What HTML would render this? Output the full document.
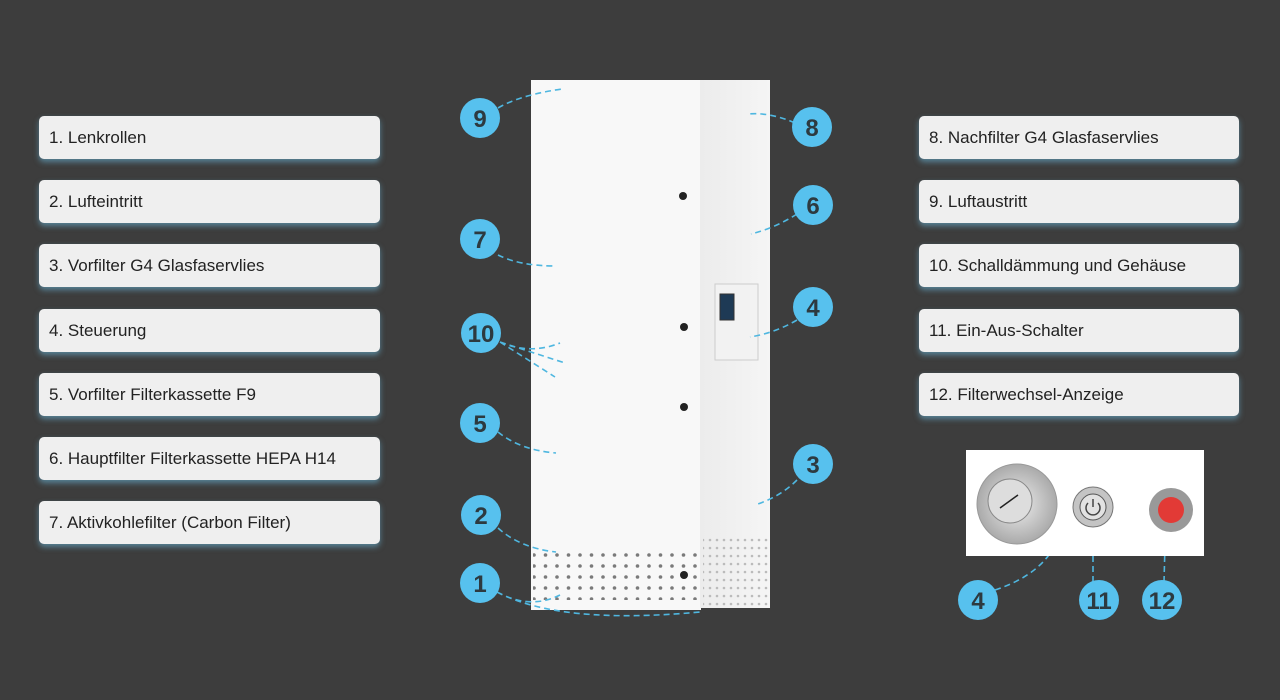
<!DOCTYPE html>
<html><head><meta charset="utf-8"><style>
body{margin:0;width:1280px;height:700px;background:#3d3d3d;overflow:hidden;position:relative;font-family:"Liberation Sans",sans-serif}
.b{position:absolute;height:43px;background:#efefef;border-radius:5px;box-shadow:0 3px 6px rgba(110,190,225,.55);font-size:17px;color:#222;line-height:43px;padding-left:10px;box-sizing:border-box}
.l{left:39px;width:341px}.r{left:919px;width:320px}
svg{position:absolute;left:0;top:0}
.n{font:bold 24px "Liberation Sans",sans-serif;fill:#2d3a40;text-anchor:middle}
</style></head><body>
<div class="b l" style="top:116px">1. Lenkrollen</div>
<div class="b l" style="top:180px">2. Lufteintritt</div>
<div class="b l" style="top:244px">3. Vorfilter G4 Glasfaservlies</div>
<div class="b l" style="top:309px">4. Steuerung</div>
<div class="b l" style="top:373px">5. Vorfilter Filterkassette F9</div>
<div class="b l" style="top:437px">6. Hauptfilter Filterkassette HEPA H14</div>
<div class="b l" style="top:501px">7. Aktivkohlefilter (Carbon Filter)</div>
<div class="b r" style="top:116px">8. Nachfilter G4 Glasfaservlies</div>
<div class="b r" style="top:180px">9. Luftaustritt</div>
<div class="b r" style="top:244px">10. Schalldämmung und Gehäuse</div>
<div class="b r" style="top:309px">11. Ein-Aus-Schalter</div>
<div class="b r" style="top:373px">12. Filterwechsel-Anzeige</div>
<svg width="1280" height="700">
<defs><linearGradient id="s" x1="0" x2="1"><stop offset="0" stop-color="#ececec"/><stop offset="1" stop-color="#f5f5f5"/></linearGradient>
<pattern id="p" width="11.5" height="11" patternUnits="userSpaceOnUse"><circle cx="5" cy="5" r="1.8" fill="#444"/></pattern>
<pattern id="p2" width="7" height="8" patternUnits="userSpaceOnUse"><circle cx="3" cy="4" r="1.3" fill="#bbb"/></pattern>
<radialGradient id="m"><stop offset="0" stop-color="#eee"/><stop offset="1" stop-color="#aaa"/></radialGradient></defs>
<rect x="531" y="80" width="170" height="530" fill="#f8f8f8"/>
<rect x="700" y="80" width="70" height="528" fill="url(#s)"/>
<rect x="533" y="552" width="165" height="48" fill="url(#p)" opacity=".7"/>
<rect x="703" y="535" width="66" height="72" fill="url(#p2)"/>
<circle cx="683" cy="196" r="4" fill="#222"/><circle cx="684" cy="327" r="4" fill="#222"/><circle cx="684" cy="407" r="4" fill="#222"/><circle cx="684" cy="575" r="4" fill="#222"/>
<rect x="715" y="284" width="43" height="76" fill="#f2f2f2" stroke="#ccc"/>
<rect x="720" y="294" width="14" height="26" fill="#1e3a55" stroke="#333"/>
<g stroke="#4fb7e0" stroke-width="1.6" stroke-dasharray="6,4" fill="none">
<path d="M498 108 Q520 95 562 89"/><path d="M795 123 Q770 112 748 114"/>
<path d="M797 214 Q775 228 751 234"/><path d="M498 255 Q520 266 556 266"/>
<path d="M797 320 Q775 333 750 337"/><path d="M500 342 Q530 355 560 343 M500 342 L565 363 M500 342 L555 377"/>
<path d="M498 432 Q520 450 556 453"/><path d="M797 480 Q780 497 755 505"/>
<path d="M498 528 Q520 548 556 552"/><path d="M497 592 Q530 610 560 595 M497 592 Q560 625 700 612"/>
<path d="M995 590 Q1040 575 1055 545"/><path d="M1093 582 L1093 542"/><path d="M1164 582 L1165 545"/>
</g>
<rect x="966" y="450" width="238" height="106" fill="#fff"/>
<circle cx="1017" cy="504" r="40" fill="url(#m)" stroke="#999"/><circle cx="1010" cy="501" r="22" fill="#ddd" stroke="#888"/>
<line x1="1000" y1="508" x2="1018" y2="495" stroke="#222" stroke-width="1.5"/>
<circle cx="1093" cy="507" r="20" fill="#c4c4c4" stroke="#777"/><circle cx="1093" cy="507" r="13" fill="#e2e2e2" stroke="#555"/>
<path d="M1088 503 A7 7 0 1 0 1098 503 M1093 499 L1093 507" stroke="#444" stroke-width="1.5" fill="none"/>
<circle cx="1171" cy="510" r="22" fill="#999"/><circle cx="1171" cy="510" r="13" fill="#e23a36"/>
<g fill="#57c1ee">
<circle cx="480" cy="118" r="20"/><circle cx="812" cy="127" r="20"/><circle cx="813" cy="205" r="20"/><circle cx="480" cy="239" r="20"/><circle cx="813" cy="307" r="20"/><circle cx="481" cy="333" r="20"/><circle cx="480" cy="423" r="20"/><circle cx="813" cy="464" r="20"/><circle cx="481" cy="515" r="20"/><circle cx="480" cy="583" r="20"/><circle cx="978" cy="600" r="20"/><circle cx="1099" cy="600" r="20"/><circle cx="1162" cy="600" r="20"/></g>
<g class="n"><text x="480" y="127" class="n">9</text><text x="812" y="136" class="n">8</text><text x="813" y="214" class="n">6</text><text x="480" y="248" class="n">7</text><text x="813" y="316" class="n">4</text><text x="481" y="342" class="n">10</text><text x="480" y="432" class="n">5</text><text x="813" y="473" class="n">3</text><text x="481" y="524" class="n">2</text><text x="480" y="592" class="n">1</text><text x="978" y="609" class="n">4</text><text x="1099" y="609" class="n">11</text><text x="1162" y="609" class="n">12</text></g>
</svg>
</body></html>
